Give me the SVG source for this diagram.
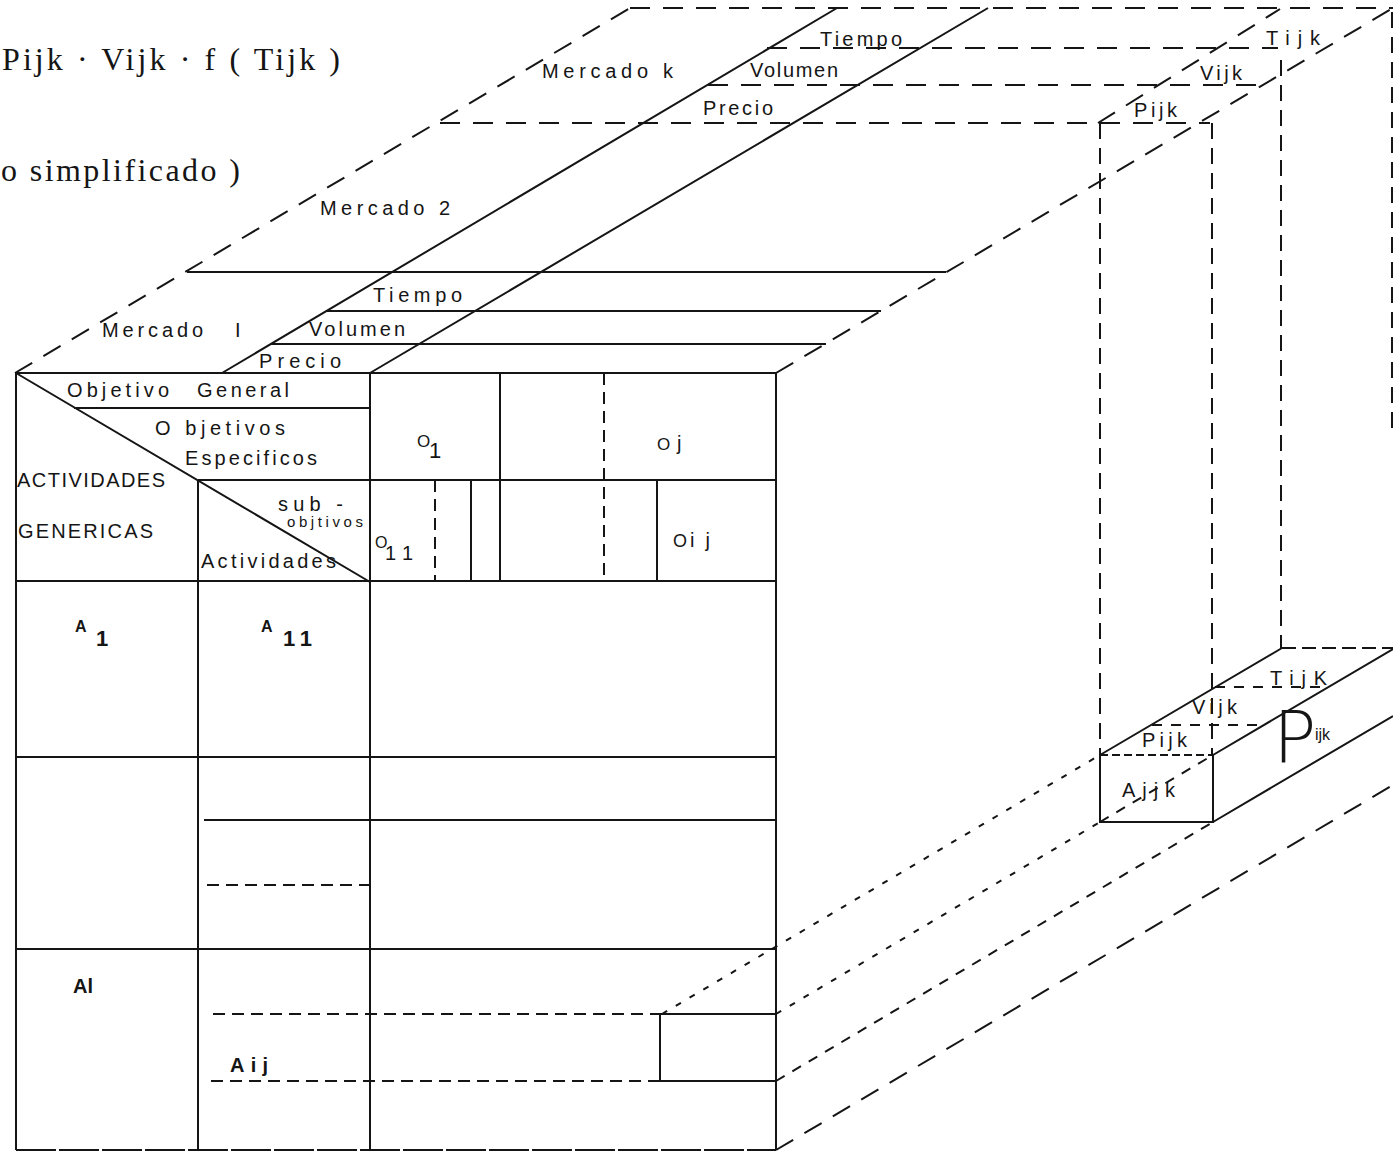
<svg xmlns="http://www.w3.org/2000/svg" width="1393" height="1152" viewBox="0 0 1393 1152">
<style>
.l{stroke:#151515;stroke-width:2;fill:none}
.d{stroke-dasharray:20 13}
.dv{stroke-dasharray:16 9}
.dt{stroke-dasharray:6 10}
.dm{stroke-dasharray:10 9}
.ds{stroke-dasharray:12 7}
.t{font-family:"Liberation Sans","DejaVu Sans",sans-serif;font-size:20px;fill:#151515}
.f{font-family:"Liberation Serif","DejaVu Serif",serif;font-size:32px;fill:#151515}
</style>
<rect width="1393" height="1152" fill="#fff"/>

<g id="formula">
<text class="f" x="2" y="70" textLength="338" lengthAdjust="spacing">Pijk · Vijk · f ( Tijk )</text>
<text class="f" x="1" y="181" textLength="239" lengthAdjust="spacing">o simplificado )</text>
</g>

<g id="top-face">
<path class="l d" d="M15 373 L630 8 M776 373 L1393 8 M630 8 H1393"/>
<path class="l" d="M222 373 L837 8 M370 373 L988 8"/>
<path class="l" d="M187 272 H946 M327 311 H881 M271 344 H826"/>
<path class="l d" d="M440 123 H1210 M708 85 H1262 M767 48 H1278 M1098 123 L1280 9"/>
<text class="t" x="542" y="78" textLength="131" lengthAdjust="spacing">Mercado k</text>
<text class="t" x="820" y="46" textLength="82" lengthAdjust="spacing">Tiempo</text>
<text class="t" x="750" y="77" textLength="88" lengthAdjust="spacing">Volumen</text>
<text class="t" x="703" y="115" textLength="70" lengthAdjust="spacing">Precio</text>
<text class="t" x="1134" y="117" textLength="43" lengthAdjust="spacing">Pijk</text>
<text class="t" x="1200" y="80" textLength="42" lengthAdjust="spacing">Vijk</text>
<text class="t" x="1266" y="45" textLength="54" lengthAdjust="spacing">Tijk</text>
<text class="t" x="320" y="215" textLength="130" lengthAdjust="spacing">Mercado 2</text>
<text class="t" y="337"><tspan x="102" textLength="101" lengthAdjust="spacing">Mercado</tspan><tspan x="235">I</tspan></text>
<text class="t" x="373" y="302" textLength="89" lengthAdjust="spacing">Tiempo</text>
<text class="t" x="309" y="336" textLength="96" lengthAdjust="spacing">Volumen</text>
<text class="t" x="259" y="368" textLength="82" lengthAdjust="spacing">Precio</text>
</g>

<g id="projections">
<path class="l dv" d="M1100 123 V755 M1212 123 V755 M1281 60 V648 M1392 12 V432"/>
</g>

<g id="front-table">
<path class="l" d="M16 373 H776 M16 373 V1150 M776 373 V1150 M370 373 V1150 M198 480 V1150"/>
<path class="l" d="M16 373 L370 582 M74 408 H370 M198 480 H776 M16 581 H776"/>
<path class="l" d="M500 373 V581 M657 480 V581 M471 480 V581"/>
<path class="l ds" d="M604 373 V581 M435 480 V581"/>
<path class="l" d="M16 757 H776 M204 820 H776 M16 949 H776"/>
<path class="l ds" d="M207 885 H372 M213 1014 H660 M211 1081 H660"/>
<path class="l" d="M660 1014 H776 M660 1081 H776 M660 1014 V1081"/>
<path class="l" style="stroke-dasharray:40 3" d="M16 1150 H776"/>
<text class="t" y="397"><tspan x="67" textLength="102" lengthAdjust="spacing">Objetivo</tspan><tspan x="197" textLength="92" lengthAdjust="spacing">General</tspan></text>
<text class="t" x="155" y="435" textLength="130" lengthAdjust="spacing">O bjetivos</text>
<text class="t" x="185" y="465" textLength="132" lengthAdjust="spacing">Especificos</text>
<text class="t" x="17" y="487" textLength="148" lengthAdjust="spacing">ACTIVIDADES</text>
<text class="t" x="18" y="538" textLength="135" lengthAdjust="spacing">GENERICAS</text>
<text class="t" x="278" y="511" textLength="65" lengthAdjust="spacing">sub -</text>
<text class="t" x="287" y="527" style="font-size:15px" textLength="76" lengthAdjust="spacing">objtivos</text>
<text class="t" x="201" y="568" textLength="135" lengthAdjust="spacing">Actividades</text>
<text class="t" x="417" y="447" style="font-size:17px">O<tspan x="429" y="458" style="font-size:22px">1</tspan></text>
<text class="t" x="657" y="450" style="font-size:17px">O<tspan x="677" style="font-size:20px">j</tspan></text>
<text class="t" x="375" y="548" style="font-size:16px">O<tspan x="385" y="560" style="font-size:20px" textLength="28" lengthAdjust="spacing">11</tspan></text>
<text class="t" x="673" y="547" style="font-size:18px">O<tspan x="690" style="font-size:20px" textLength="20" lengthAdjust="spacing">ij</tspan></text>
<text class="t" x="75" y="632" style="font-size:16px;font-weight:bold">A<tspan x="96" y="646" style="font-size:22px">1</tspan></text>
<text class="t" x="261" y="632" style="font-size:16px;font-weight:bold">A<tspan x="283" y="646" style="font-size:22px" textLength="29" lengthAdjust="spacing">11</tspan></text>
<text class="t" x="73" y="993" style="font-size:20px;font-weight:bold">Al</text>
<text class="t" x="230" y="1072" style="font-size:20px;font-weight:bold" textLength="38" lengthAdjust="spacing">Aij</text>
</g>

<g id="depth-lines">
<path class="l dt" d="M662 1014 L1100 755 M776 1014 L1100 822"/>
<path class="l dm" d="M776 1081 L1213 822 M1100 822 L1213 755"/>
<path class="l d" d="M776 1150 L1393 785"/>
</g>

<g id="cell-ijk">
<path class="l" d="M1100 755 V822 H1213 V755 M1100 755 L1282 648 M1213 755 L1393 649 M1213 822 L1393 716"/>
<path class="l" style="stroke-dasharray:8 4" d="M1100 755 H1213"/>
<path class="l" style="stroke-dasharray:14 6" d="M1282 648 H1393"/>
<path class="l dm" d="M1152 725 H1266 M1215 687 H1328"/>
<text class="t" x="1270" y="685" textLength="57" lengthAdjust="spacing">TijK</text>
<text class="t" x="1192" y="714" textLength="45" lengthAdjust="spacing">Vijk</text>
<text class="t" x="1142" y="747" textLength="45" lengthAdjust="spacing">Pijk</text>
<text class="t" x="1122" y="797" textLength="53" lengthAdjust="spacing">Ajjk</text>
<text x="1273" y="762" style="font-family:'DejaVu Sans',sans-serif;font-weight:200;font-size:72px;fill:#151515">P<tspan x="1315" y="740" style="font-family:'Liberation Sans',sans-serif;font-weight:normal;font-size:16px">ijk</tspan></text>
</g>
</svg>
